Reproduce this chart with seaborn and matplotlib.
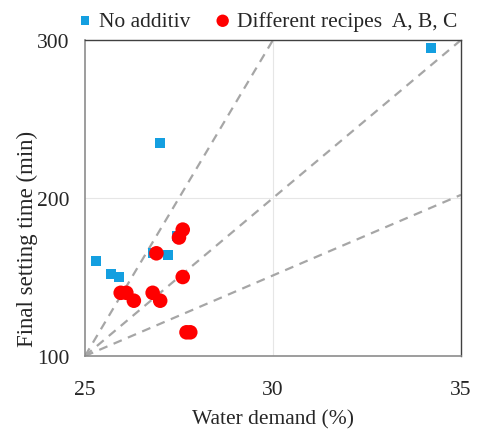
import matplotlib
matplotlib.use("Agg")
import matplotlib.pyplot as plt
import seaborn as sns
import pandas as pd

# Data
no_add_x = [27.0, 25.3, 25.7, 25.9, 26.8, 27.2, 34.2, 27.45, 27.6]
no_add_y = [235, 160, 152, 150, 165, 164, 295, 176, 150]
rec_x = [27.6, 27.5, 26.9, 27.6, 25.95, 26.1, 26.3, 26.8, 27.0, 27.7, 27.8]
rec_y = [180, 175, 165, 150, 140, 140, 135, 140, 135, 115, 115]
series_names = ["No additiv", "Different recipes  A, B, C"]

# Reference lines (start, end)
ref_x = [[25, 30], [25, 35], [25, 35]]
ref_y = [[100, 300], [100, 300], [100, 202]]

sns.set_style("white")
plt.rcParams['font.family'] = ['Liberation Serif', 'DejaVu Serif']

df = pd.DataFrame({
    "x": no_add_x + rec_x,
    "y": no_add_y + rec_y,
    "s": [series_names[0]] * len(no_add_x) + [series_names[1]] * len(rec_x),
})

fig = plt.figure(figsize=(4.82, 4.35), dpi=100)
ax = fig.add_axes([0.1763, 0.1793, 0.7801, 0.7264])

for xs, ys in zip(ref_x, ref_y):
    ax.plot(xs, ys, color="#A6A6A6", lw=1.6, ls=(0, (4, 3)), zorder=1)

ax.axvline(30, color="#E6E6E6", lw=0.8, zorder=0)
ax.axhline(200, color="#E6E6E6", lw=0.8, zorder=0)

sub1 = df[df.s == series_names[0]]
sub2 = df[df.s == series_names[1]]
sns.scatterplot(data=sub1, x="x", y="y", ax=ax, marker="s", s=55,
                color="#149FE0", edgecolor="none", label=series_names[0], zorder=3)
sns.scatterplot(data=sub2, x="x", y="y", ax=ax, marker="o", s=110,
                color="#FF0000", edgecolor="none", label=series_names[1], zorder=4)

ax.set_xlim(25, 35)
ax.set_ylim(100, 300)
ax.set_xticks([25, 30, 35])
ax.set_yticks([100, 200, 300])
ax.tick_params(axis="both", labelsize=15.5, direction="out", length=5,
               color="#8C8C8C", width=1, pad=6)
ax.tick_params(axis="x", pad=12)
ax.set_xlabel("Water demand (%)", fontsize=15.5, labelpad=8)
ax.set_ylabel("Final setting time (min)", fontsize=16.5)
ax.yaxis.set_label_coords(-0.125, 0.373)

for side in ["left", "bottom"]:
    ax.spines[side].set_color("#8C8C8C")
    ax.spines[side].set_linewidth(1.2)
for side in ["top", "right"]:
    ax.spines[side].set_color("#404040")
    ax.spines[side].set_linewidth(1.0)

ax.legend(loc="lower left", bbox_to_anchor=(-0.04, 1.0), ncol=2, frameon=False,
          fontsize=15.5, handlelength=0.6, handletextpad=0.35, columnspacing=1.2,
          borderaxespad=0.2, borderpad=0.2, markerscale=0.85)

fig.savefig("out.png", dpi=100)
